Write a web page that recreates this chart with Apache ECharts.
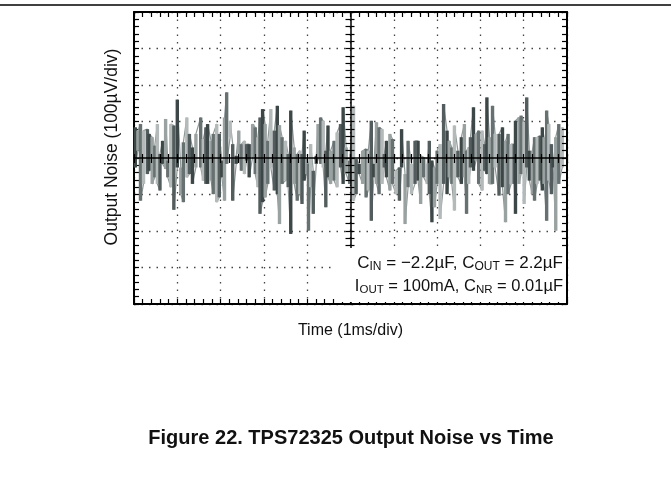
<!DOCTYPE html>
<html><head><meta charset="utf-8">
<script src="https://cdn.jsdelivr.net/npm/echarts@6/dist/echarts.min.js"></script>
<style>html,body{margin:0;padding:0;background:#fff}#c{width:671px;height:482px}</style>
</head><body><div id="c"></div>
<script>
// time in ms (1 ms/div), noise in µV (100 µV/div)
const timeMs = [0.03,0.09,0.15,0.22,0.31,0.35,0.42,0.48,0.54,0.60,0.66,0.73,0.78,0.85,0.92,1.00,1.08,1.14,1.22,1.28,1.35,1.43,1.54,1.60,1.66,
1.70,1.78,1.83,1.91,1.97,2.03,2.09,2.14,2.22,2.28,2.36,2.42,2.48,2.55,2.60,2.66,2.74,2.80,2.86,2.91,2.97,3.03,3.09,3.16,3.24,3.31,3.36,
3.42,3.50,3.56,3.62,3.70,3.77,3.83,3.88,3.93,3.99,4.03,4.08,4.14,4.21,4.25,4.31,4.37,4.43,4.48,4.54,4.62,4.69,4.77,4.83,4.90,4.98,
5.07,5.13,5.20,5.28,5.36,5.41,5.48,5.54,5.60,5.66,5.73,5.78,5.83,5.91,5.97,6.05,6.13,6.18,6.26,6.33,6.41,6.49,6.56,6.62,
6.69,6.77,6.82,6.88,6.94,7.00,7.07,7.15,7.23,7.28,7.34,7.40,7.48,7.56,7.63,7.68,7.73,7.77,7.84,7.90,7.96,8.04,8.10,8.15,8.21,8.28,8.34,
8.43,8.51,8.58,8.64,8.71,8.78,8.81,8.89,8.94,9.01,9.07,9.13,9.20,9.25,9.31,9.38,9.43,9.47,9.53,9.58,9.64,9.68,9.74,9.81,9.89];
const noiseHigh = [84,75,93,75,79,66,57,34,93,11,47,107,-7,93,89,160,-26,43,111,66,29,66,111,52,84,
93,47,66,93,66,-7,111,180,102,38,6,75,38,47,38,38,93,84,57,111,134,93,47,134,75,143,90,
57,47,11,130,29,11,20,11,75,-3,-16,38,-35,6,93,111,102,20,89,20,47,70,93,139,29,-7,
143,-3,-16,20,25,20,102,-16,98,84,79,11,47,66,52,-35,-26,79,-44,47,-16,47,47,6,
2,-16,47,-7,-26,20,38,148,75,47,29,89,20,57,93,20,29,57,139,66,75,75,38,166,57,143,66,
66,84,47,66,38,38,102,111,116,98,166,20,20,57,57,61,84,57,130,93,38,2,57,93,84];
const noiseLow = [-26,20,-117,-71,-44,-35,-71,-53,-71,-89,-16,-30,-53,-80,-142,-26,-99,-121,-53,-44,-71,-26,-26,-62,-71,
-71,-62,-99,-121,-108,-53,-117,-16,57,-117,-16,11,-35,-44,-7,-53,2,-44,-80,-153,-121,-108,-71,-26,-89,-99,-181,
-71,-62,-80,-208,-71,-117,-99,-126,-62,-44,-199,-80,-153,-16,2,-16,-26,-135,-53,-71,-62,-80,-26,-71,-44,-71,
-117,-99,-44,-71,-108,-89,-172,-53,-71,-99,-71,-26,-53,-89,-71,-99,-117,-26,-181,-80,-99,-71,-62,-126,
-53,-71,-99,-176,-135,-71,-167,-71,-99,-53,-71,-144,-53,-71,-53,-153,-71,-26,-35,-7,-71,-89,-35,-44,-71,-71,-26,
-103,-80,-176,-99,-71,-71,-153,-71,-44,-126,-26,-62,-99,-117,-71,-62,-89,-71,-172,-62,-99,-26,-199,-71,-26];
const xRange = [0, 10, 1];      // ms, 1 ms/div
const yRange = [-400, 400, 100]; // µV, 100 µV/div
const xTitle = 'Time (1ms/div)';
const yTitle = 'Output Noise (100µV/div)';
const caption = 'Figure 22. TPS72325 Output Noise vs Time';

const chart = echarts.init(document.getElementById('c'), null, {renderer: 'canvas'});
const FONT = 'Liberation Sans, Arial, sans-serif';
const shades = ['#3e4747', '#9aa1a1', '#687171', '#b4b9b9', '#545d5d'];

const tickStyle = {color: '#000', width: 1.2};
function mkAxis(range, extra) {
  return Object.assign({
    type: 'value', min: range[0], max: range[1], interval: range[2],
    axisLabel: {show: false},
    axisLine: {show: true, onZero: false, lineStyle: {color: '#000', width: 2}},
    axisTick: {show: true, inside: true, length: 5, lineStyle: tickStyle},
    minorTick: {show: true, splitNumber: 5, length: 5, lineStyle: tickStyle},
    splitLine: {show: false}, z: 10
  }, extra);
}
const gridH = 292, gridW = 433;
const dotted = {show: true, lineStyle: {color: '#444', width: 1.3, type: [1.5, 6]}};
const centerLine = {show: true, onZero: false, lineStyle: {color: '#000', width: 1.5}};
const outTick = {show: true, inside: false, length: 4, lineStyle: tickStyle};
const outMinor = {show: true, splitNumber: 5, length: 4, lineStyle: tickStyle};

// oscilloscope trace through the same samples
const trace = [];
timeMs.forEach((t, i) => {
  if (i % 2 === 0) { trace.push([t, noiseHigh[i]], [t, noiseLow[i]]); }
  else { trace.push([t, noiseLow[i]], [t, noiseHigh[i]]); }
});

const option = {
  backgroundColor: '#fff',
  animation: false,
  grid: {left: 134, top: 12, width: gridW, height: gridH, containLabel: false},
  xAxis: [
    mkAxis(xRange, {position: 'bottom', splitLine: dotted, z: 1,
      name: xTitle, nameLocation: 'middle', nameGap: 19,
      nameTextStyle: {fontFamily: FONT, fontSize: 16, color: '#111'}}),
    mkAxis(xRange, {position: 'top'}),
    mkAxis(xRange, {position: 'top', offset: -gridH / 2, axisLine: centerLine}),
    mkAxis(xRange, {position: 'top', offset: -gridH / 2, axisLine: {show: false, onZero: false},
      axisTick: outTick, minorTick: outMinor})
  ],
  yAxis: [
    mkAxis(yRange, {position: 'left', splitLine: dotted, z: 1}),
    mkAxis(yRange, {position: 'right'}),
    mkAxis(yRange, {position: 'right', offset: -gridW / 2, axisLine: centerLine}),
    mkAxis(yRange, {position: 'right', offset: -gridW / 2, axisLine: {show: false, onZero: false},
      axisTick: outTick, minorTick: outMinor})
  ],
  series: [{
    type: 'line',
    xAxisIndex: 0, yAxisIndex: 0,
    data: trace, symbol: 'none', silent: true,
    lineStyle: {color: '#8f9797', width: 1.2},
    z: 4
  }, {
    type: 'custom',
    xAxisIndex: 0, yAxisIndex: 0,
    data: timeMs.map((t, i) => [t, noiseLow[i], noiseHigh[i]]),
    encode: {x: 0, y: [1, 2]},
    renderItem: function (params, api) {
      const top = api.coord([api.value(0), api.value(2)]);
      const bot = api.coord([api.value(0), api.value(1)]);
      return {
        type: 'rect',
        shape: {x: top[0] - 1.7, y: top[1], width: 3.4, height: bot[1] - top[1]},
        style: {fill: shades[params.dataIndex % shades.length]}
      };
    },
    z: 5
  }],
  graphic: [
    {type: 'line', z: 100, shape: {x1: 0, y1: 5, x2: 671, y2: 5}, style: {stroke: '#000', lineWidth: 1.5}},
    {type: 'text', z: 100, x: 112, y: 147, rotation: Math.PI / 2, style: {
      text: yTitle, align: 'center', verticalAlign: 'middle',
      fontFamily: FONT, fontSize: 17.5, fill: '#111'}},
    {type: 'rect', z: 100, shape: {x: 336, y: 248, width: 230, height: 54}, style: {fill: '#fff'}},
    {type: 'text', z: 101, x: 563, y: 263, style: {
      text: '{n|C}{s|IN}{n| = −2.2µF, C}{s|OUT}{n| = 2.2µF}',
      align: 'right', verticalAlign: 'middle',
      rich: {n: {fontFamily: FONT, fontSize: 17, lineHeight: 20, fill: '#111'},
             s: {fontFamily: FONT, fontSize: 12, lineHeight: 12, verticalAlign: 'bottom', fill: '#111'}}
    }},
    {type: 'text', z: 101, x: 563, y: 286, style: {
      text: '{n|I}{s|OUT}{n| = 100mA, C}{s|NR}{n| = 0.01µF}',
      align: 'right', verticalAlign: 'middle',
      rich: {n: {fontFamily: FONT, fontSize: 16.5, lineHeight: 20, fill: '#111'},
             s: {fontFamily: FONT, fontSize: 11.5, lineHeight: 12, verticalAlign: 'bottom', fill: '#111'}}
    }},
    {type: 'text', z: 100, x: 351, y: 438, style: {
      text: caption, align: 'center', verticalAlign: 'middle',
      fontFamily: FONT, fontSize: 20, fontWeight: 'bold', fill: '#111'}}
  ]
};
chart.setOption(option);
</script>
</body></html>
